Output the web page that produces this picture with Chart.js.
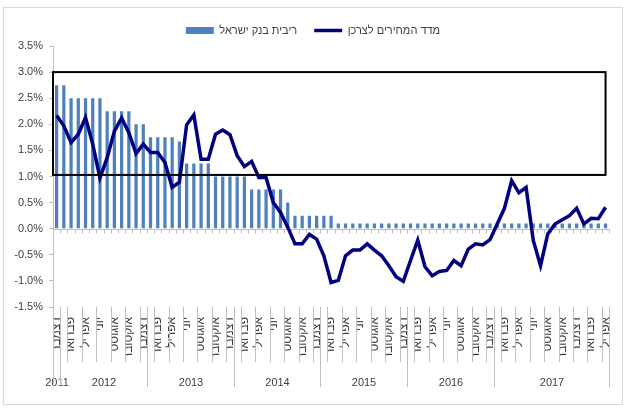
<!DOCTYPE html>
<html>
<head>
<meta charset="utf-8">
<script src="https://cdn.jsdelivr.net/npm/chart.js@4.4.0/dist/chart.umd.min.js"></script>
<style>
  html, body { margin: 0; padding: 0; background: #fff; }
  #frame { position: absolute; left: 3px; top: 7px; width: 618px; height: 396px; border: 1px solid #d9d9d9; }
  canvas { display: block; }
</style>
</head>
<body>
<div id="frame"><canvas id="ratesChart" width="618" height="396"></canvas></div>
<script>
// monthly, Dec 2011 - Apr 2018
var categories = [
    '2011-12',
    '2012-01', '2012-02', '2012-03', '2012-04', '2012-05', '2012-06', '2012-07', '2012-08', '2012-09', '2012-10', '2012-11', '2012-12',
    '2013-01', '2013-02', '2013-03', '2013-04', '2013-05', '2013-06', '2013-07', '2013-08', '2013-09', '2013-10', '2013-11', '2013-12',
    '2014-01', '2014-02', '2014-03', '2014-04', '2014-05', '2014-06', '2014-07', '2014-08', '2014-09', '2014-10', '2014-11', '2014-12',
    '2015-01', '2015-02', '2015-03', '2015-04', '2015-05', '2015-06', '2015-07', '2015-08', '2015-09', '2015-10', '2015-11', '2015-12',
    '2016-01', '2016-02', '2016-03', '2016-04', '2016-05', '2016-06', '2016-07', '2016-08', '2016-09', '2016-10', '2016-11', '2016-12',
    '2017-01', '2017-02', '2017-03', '2017-04', '2017-05', '2017-06', '2017-07', '2017-08', '2017-09', '2017-10', '2017-11', '2017-12',
    '2018-01', '2018-02', '2018-03', '2018-04'
];

// ריבית בנק ישראל
var bankRate = [
    2.75,
    2.75, 2.5, 2.5, 2.5, 2.5, 2.5, 2.25, 2.25, 2.25, 2.25, 2.0, 2.0,
    1.75, 1.75, 1.75, 1.75, 1.67, 1.25, 1.25, 1.25, 1.25, 1.0, 1.0, 1.0,
    1.0, 1.0, 0.75, 0.75, 0.75, 0.75, 0.75, 0.5, 0.25, 0.25, 0.25, 0.25,
    0.25, 0.25, 0.1, 0.1, 0.1, 0.1, 0.1, 0.1, 0.1, 0.1, 0.1, 0.1,
    0.1, 0.1, 0.1, 0.1, 0.1, 0.1, 0.1, 0.1, 0.1, 0.1, 0.1, 0.1,
    0.1, 0.1, 0.1, 0.1, 0.1, 0.1, 0.1, 0.1, 0.1, 0.1, 0.1, 0.1,
    0.1, 0.1, 0.1, 0.1
];

// מדד המחירים לצרכן
var cpi = [
    2.17,
    1.97, 1.65, 1.81, 2.13, 1.62, 0.97, 1.36, 1.87, 2.12, 1.84, 1.44, 1.62,
    1.46, 1.46, 1.27, 0.79, 0.89, 1.99, 2.18, 1.33, 1.33, 1.81, 1.89, 1.80,
    1.40, 1.19, 1.29, 0.98, 0.98, 0.50, 0.31, 0.03, -0.29, -0.29, -0.11, -0.20,
    -0.52, -1.03, -0.99, -0.52, -0.41, -0.41, -0.29, -0.41, -0.52, -0.71, -0.92, -1.01,
    -0.61, -0.22, -0.73, -0.90, -0.82, -0.80, -0.61, -0.71, -0.39, -0.29, -0.31, -0.21,
    0.09, 0.39, 0.92, 0.69, 0.79, -0.23, -0.71, -0.10, 0.09, 0.17, 0.25, 0.39,
    0.09, 0.20, 0.19, 0.41
];

var monthTicks = { '12': 'דצמבר', '02': 'פברואר', '04': 'אפריל', '06': 'יוני', '08': 'אוגוסט', '10': 'אוקטובר' };
var yearLabels = ['2011', '2012', '2013', '2014', '2015', '2016', '2017'];
var yearSpans = [1, 12, 12, 12, 12, 12, 16]; // months under each year label
var targetBand = [1.03, 3.0];

var FONT = "'Liberation Sans Narrow', 'Liberation Sans', sans-serif";
var GREY = '#bfbfbf';

var decorations = {
    id: 'decorations',
    beforeDatasetsDraw: function (chart) {
        var x = chart.scales.x, y = chart.scales.y, c = chart.ctx, area = chart.chartArea;
        var step = x.getPixelForValue(1) - x.getPixelForValue(0);
        var y0 = Math.round(y.getPixelForValue(0)) + 0.5;
        c.save();
        c.strokeStyle = GREY;
        c.lineWidth = 1;
        c.beginPath();
        c.moveTo(area.left, y0);
        c.lineTo(area.right, y0);
        for (var i = 0; i <= categories.length; i++) {
            var px = Math.round(x.getPixelForValue(0) + (i - 0.5) * step) + 0.5;
            c.moveTo(px, y0);
            c.lineTo(px, y0 + 4);
        }
        c.stroke();
        c.restore();
    },
    afterDatasetsDraw: function (chart) {
        var x = chart.scales.x, y = chart.scales.y, c = chart.ctx, area = chart.chartArea;
        var top = y.getPixelForValue(targetBand[1]);
        var bottom = y.getPixelForValue(targetBand[0]);
        var right = x.getPixelForValue(categories.length - 1);
        c.save();
        c.strokeStyle = '#000';
        c.lineWidth = 2;
        c.strokeRect(area.left, top, right - area.left, bottom - top);
        c.restore();
    },
    afterDraw: function (chart) {
        var x = chart.scales.x, c = chart.ctx, area = chart.chartArea;
        var step = x.getPixelForValue(1) - x.getPixelForValue(0);
        var edge = function (i) { return Math.round(x.getPixelForValue(0) + (i - 0.5) * step) + 0.5; };
        var b = area.bottom;
        c.save();
        c.strokeStyle = GREY;
        c.lineWidth = 1;
        c.beginPath();
        // short separators before every labelled month
        categories.forEach(function (cat, i) {
            if (monthTicks[cat.slice(5)] && i > 0) {
                c.moveTo(edge(i), b);
                c.lineTo(edge(i), b + 55);
            }
        });
        // long separators between years
        var start = 0;
        c.moveTo(edge(0), b);
        c.lineTo(edge(0), b + 80);
        c.fillStyle = '#404040';
        c.font = '11px ' + FONT;
        c.textAlign = 'center';
        c.textBaseline = 'middle';
        yearSpans.forEach(function (span, k) {
            var end = start + span;
            c.moveTo(edge(end), b);
            c.lineTo(edge(end), b + 80);
            c.fillText(yearLabels[k], (edge(start) + edge(end)) / 2, b + 76);
            start = end;
        });
        c.stroke();
        c.restore();
    }
};

var ctx = document.getElementById('ratesChart').getContext('2d');

var chart = new Chart(ctx, {
    type: 'bar',
    data: {
        labels: categories,
        datasets: [{
            type: 'line',
            label: 'מדד המחירים לצרכן',
            data: cpi,
            borderColor: '#000080',
            borderWidth: 3.5,
            tension: 0,
            pointRadius: 0,
            pointStyle: 'line',
            pointBorderColor: '#000080',
            pointBorderWidth: 3.5
        }, {
            label: 'ריבית בנק ישראל',
            data: bankRate,
            backgroundColor: '#4f81bd',
            borderWidth: 0,
            pointStyle: 'rect',
            categoryPercentage: 1,
            barPercentage: 0.45
        }]
    },
    options: {
        responsive: false,
        animation: false,
        layout: { padding: { top: 0, right: 8, left: 8, bottom: 0 } },
        plugins: {
            tooltip: { enabled: false },
            legend: {
                reverse: true,
                labels: {
                    usePointStyle: true,
                    pointStyleWidth: 28,
                    boxHeight: 7,
                    padding: 17,
                    color: '#404040',
                    font: { family: FONT, size: 11 }
                }
            }
        },
        scales: {
            x: {
                grid: { display: false },
                border: { display: false },
                afterFit: function (scale) { scale.height = 97; },
                ticks: {
                    autoSkip: false,
                    minRotation: 90,
                    maxRotation: 90,
                    padding: 2,
                    color: '#404040',
                    font: { family: FONT, size: 12 },
                    callback: function (value, i) {
                        return monthTicks[categories[i].slice(5)] || '';
                    }
                }
            },
            y: {
                min: -1.5,
                max: 3.5,
                afterFit: function (scale) { scale.width = 41; },
                grid: { drawOnChartArea: false, tickLength: 4, color: GREY },
                border: { color: GREY },
                ticks: {
                    stepSize: 0.5,
                    padding: 6,
                    color: '#404040',
                    font: { family: FONT, size: 11 },
                    callback: function (v) { return v.toFixed(1) + '%'; }
                }
            }
        }
    },
    plugins: [decorations]
});
</script>
</body>
</html>
